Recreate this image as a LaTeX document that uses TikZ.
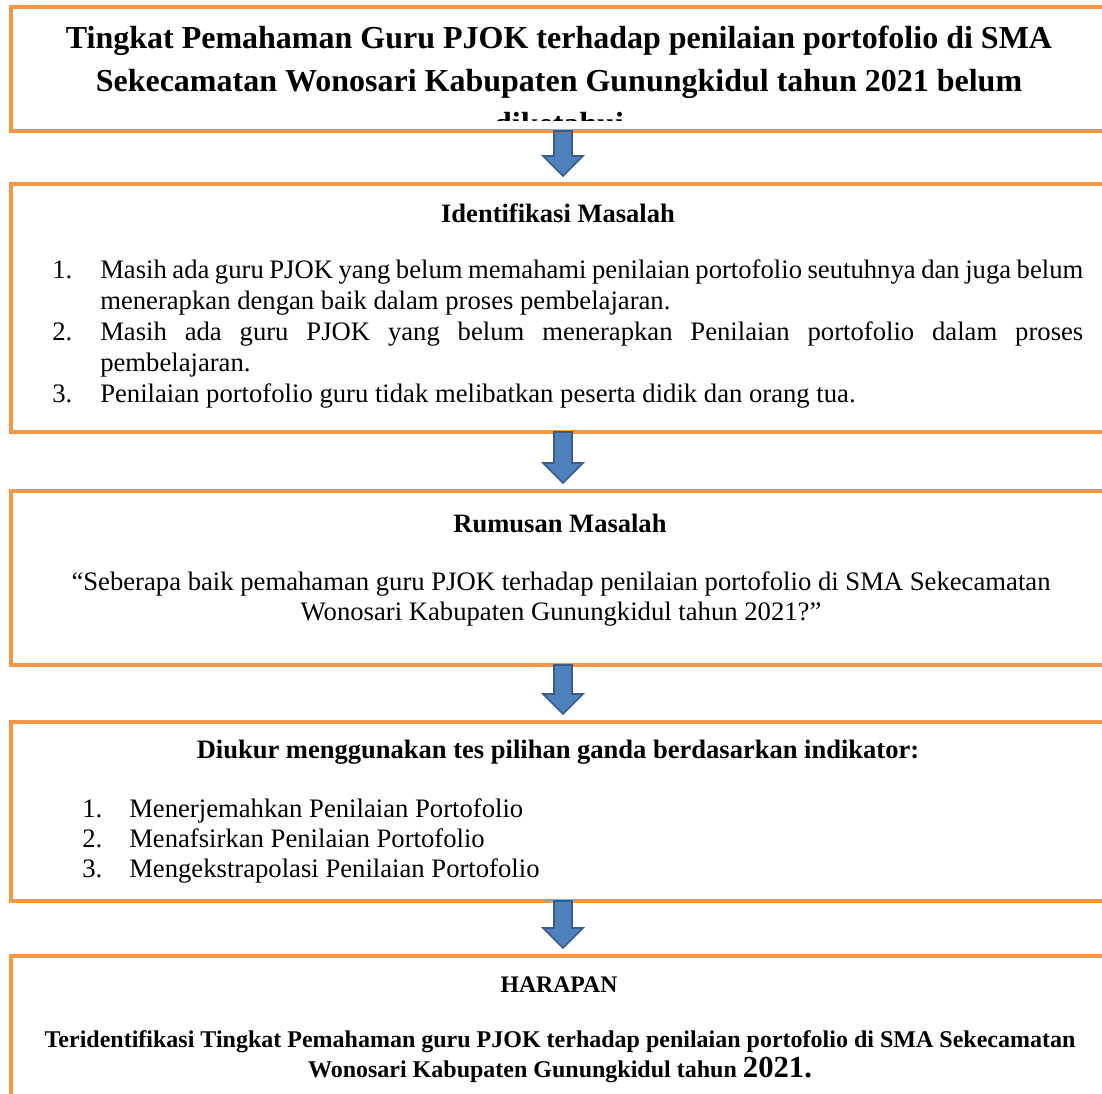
\documentclass[tikz,border=0pt]{standalone}
\usepackage{fontspec}
\setmainfont{Liberation Serif}
\usetikzlibrary{calc, positioning}

\definecolor{garisoranye}{HTML}{F79646}
\definecolor{isipanah}{HTML}{4F81BD}
\definecolor{garispanah}{HTML}{385D8A}

\newcommand{\px}{0.75pt}
\newcommand{\panah}[2]{%
  \draw[blockarrow] ($(#1.south)+(-9,0)$) -- ($(#2.north)+(-9,-28)$) -- ($(#2.north)+(-20,-28)$)
    -- ($(#2.north)+(0,-8)$) -- ($(#2.north)+(20,-28)$) -- ($(#2.north)+(9,-28)$)
    -- ($(#1.south)+(9,0)$) -- cycle;}

\tikzset{
  panel/.style={draw=garisoranye, line width=4.5*\px, anchor=north west, outer sep=0pt,
    inner sep=0pt, minimum width=1104*\px},
  blockarrow/.style={fill=isipanah, draw=garispanah, line width=1.6*\px, line join=miter},
  teks/.style={inner sep=0pt, font=\fontsize{20pt}{23.25pt}\selectfont},
  kepala/.style={inner sep=0pt, anchor=base, font=\fontsize{19.9pt}{23pt}\selectfont\bfseries},
}

\begin{document}
\begin{tikzpicture}[x=0.75pt, y=-0.75pt]

  \fill[white] (0,0) rectangle (1102,1093);
  \useasboundingbox (0,0) rectangle (1102,1093);

  % kotak
  \node[panel, minimum height=124*\px] (judul) at (11,7) {};
  \node[panel, minimum height=248*\px] (identifikasi) at (11,184) {};
  \node[panel, minimum height=174*\px] (rumusan) at (11,491) {};
  \node[panel, minimum height=179*\px] (indikator) at (11,722) {};
  \node[panel, minimum height=200*\px] (harapan) at (11,956) {};

  % panah
  \panah{judul}{identifikasi}
  \panah{identifikasi}{rumusan}
  \panah{rumusan}{indikator}
  \panah{indikator}{harapan}

  % judul
  \begin{scope}
    \clip (judul.north west) rectangle ($(judul.south east)+(0,-11)$);
    \node[teks, anchor=base, text width=1080*\px, align=flush center,
      font=\fontsize{24pt}{32.25pt}\selectfont\bfseries] (judulteks) at (559,48)
      {Tingkat Pemahaman Guru PJOK terhadap penilaian portofolio di SMA\\
       Sekecamatan Wonosari Kabupaten Gunungkidul tahun 2021 belum\\
       diketahui};
  \end{scope}

  % identifikasi masalah
  \node[kepala] (identifikasijudul) at (558,222) {Identifikasi Masalah};
  \node[teks, anchor=base west] (no1) at (52,278) {1.};
  \node[teks, anchor=base west] (no2) at (52,340) {2.};
  \node[teks, anchor=base west] (no3) at (52,402) {3.};
  \node[teks, anchor=base west, text width=983*\px, align=justify] (butir1) at (100,278)
    {Masih ada guru PJOK yang belum memahami penilaian portofolio seutuhnya dan juga belum\linebreak
     menerapkan dengan baik dalam proses pembelajaran.};
  \node[teks, anchor=base west, text width=983*\px, align=justify] (butir2) at (100,340)
    {Masih ada guru PJOK yang belum menerapkan Penilaian portofolio dalam proses\linebreak
     pembelajaran.};
  \node[teks, anchor=base west] (butir3) at (100,402)
    {Penilaian portofolio guru tidak melibatkan peserta didik dan orang tua.};

  % rumusan masalah
  \node[kepala] (rumusanjudul) at (560,532) {Rumusan Masalah};
  \node[teks, anchor=base, text width=1080*\px, align=flush center,
    font=\fontsize{20pt}{22.5pt}\selectfont] (pertanyaan) at (561,590)
    {“Seberapa baik pemahaman guru PJOK terhadap penilaian portofolio di SMA Sekecamatan\\
     Wonosari Kabupaten Gunungkidul tahun 2021?”};

  % indikator
  \node[kepala] (indikatorjudul) at (558,758) {Diukur menggunakan tes pilihan ganda berdasarkan indikator:};
  \node[teks, anchor=base west] (ind1) at (82,817) {1.};
  \node[teks, anchor=base west] (ind2) at (82,847) {2.};
  \node[teks, anchor=base west] (ind3) at (82,877) {3.};
  \node[teks, anchor=base west] (indteks1) at (129,817) {Menerjemahkan Penilaian Portofolio};
  \node[teks, anchor=base west] (indteks2) at (129,847) {Menafsirkan Penilaian Portofolio};
  \node[teks, anchor=base west] (indteks3) at (129,877) {Mengekstrapolasi Penilaian Portofolio};

  % harapan
  \node[kepala, font=\fontsize{17.8pt}{20pt}\selectfont\bfseries] (harapanjudul) at (559,992) {HARAPAN};
  \node[teks, anchor=base, text width=1090*\px, align=flush center,
    font=\fontsize{18pt}{22.5pt}\selectfont\bfseries] (harapanisi) at (560,1047)
    {Teridentifikasi Tingkat Pemahaman guru PJOK terhadap penilaian portofolio di SMA Sekecamatan\\
     Wonosari Kabupaten Gunungkidul tahun {\fontsize{23pt}{22.5pt}\selectfont 2021.}};

\end{tikzpicture}
\end{document}
